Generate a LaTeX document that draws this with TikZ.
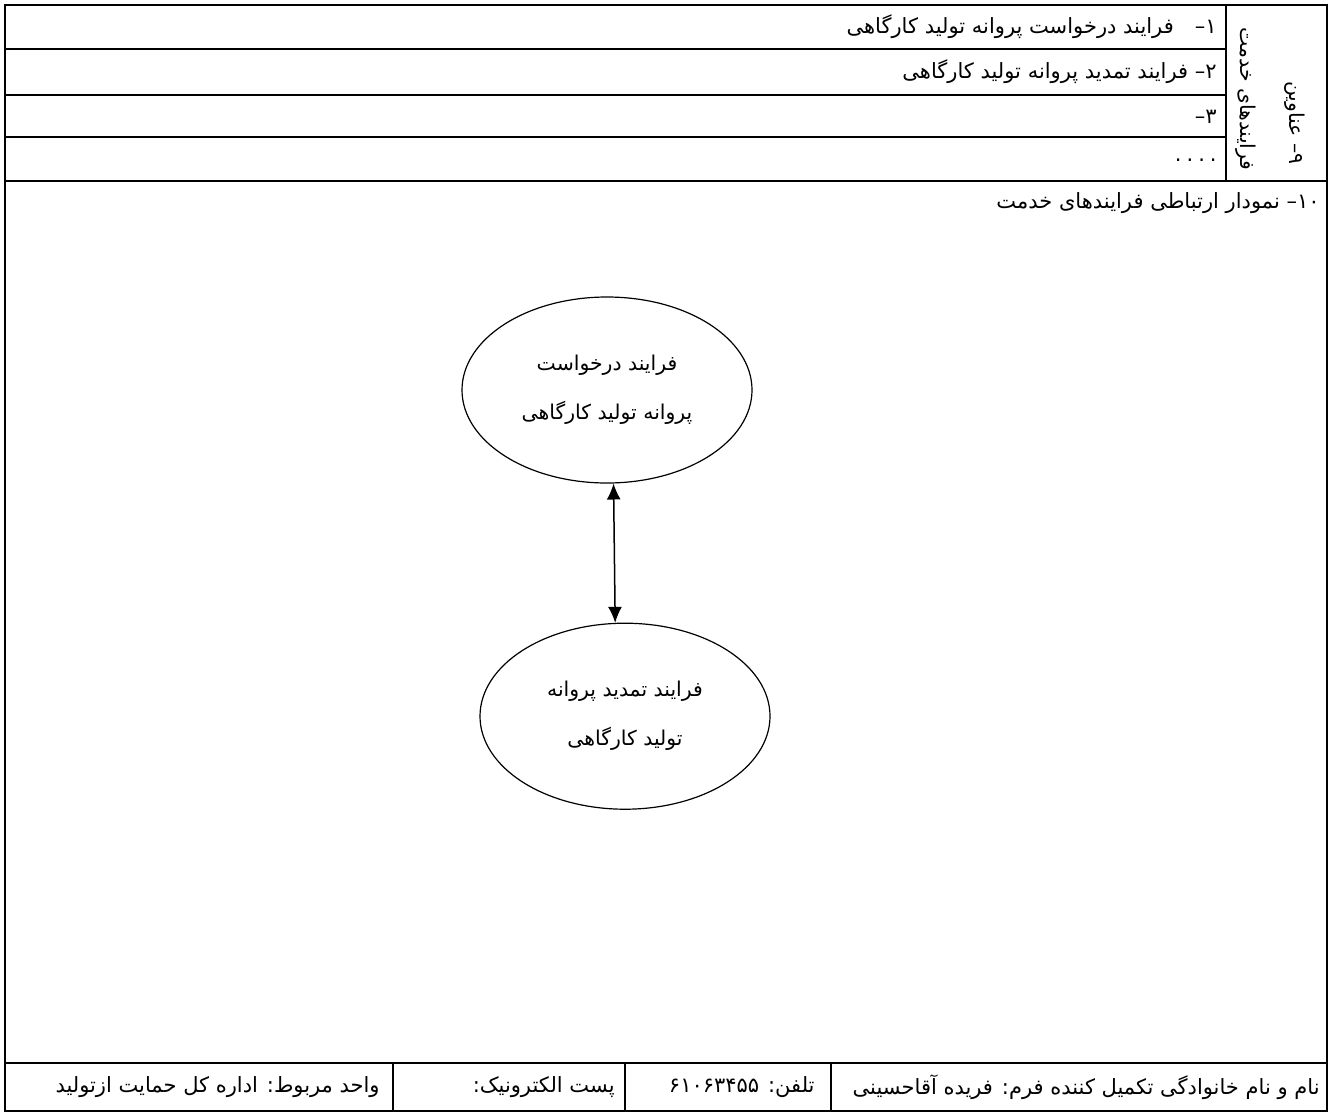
\documentclass[tikz,border=0pt]{standalone}
\usepackage{fontspec}
\newfontfamily\arabicfont[Script=Arabic]{DejaVu Sans}
\TeXXeTstate=1
\usetikzlibrary{shapes.geometric, positioning, arrows.meta}
\newcommand{\fa}[1]{\beginR #1\endR}

\begin{document}
\begin{tikzpicture}[x=0.5pt, y=-0.5pt,
    grid/.style={line width=1pt},
    txt/.style={anchor=east, inner sep=0pt, font=\arabicfont\fontsize{10.5}{12}\selectfont},
    side/.style={rotate=-90, inner sep=0pt, font=\arabicfont\fontsize{10.2}{12}\selectfont},
    proc/.style={ellipse, draw, line width=0.6pt, minimum width=145pt, minimum height=93pt, align=center, font=\arabicfont\fontsize{10.2}{24.5}\selectfont},]
    \useasboundingbox (0,0) rectangle (1331,1114);
    % table frame
    \draw[grid] (5,5) rectangle (1327,1111);
    \foreach \y in {49,95,137} \draw[grid] (5,\y) -- (1226,\y);
    \draw[grid] (5,181) -- (1327,181);
    \draw[grid] (1226,5) -- (1226,181);
    \draw[grid] (5,1063) -- (1327,1063);
    \foreach \x in {393,625,831} \draw[grid] (\x,1063) -- (\x,1111);
    % process list
    \node[side] (ttl) at (1295,123) {\fa{۹– عناوین}};
    \node[side] (svc) at (1246,99) {\fa{فرایندهای خدمت}};
    \node[txt] (p1) at (1217,27) {\fa{۱–\hspace{1em}فرایند درخواست پروانه تولید کارگاهی}};
    \node[txt] (p2) at (1217,72) {\fa{۲– فرایند تمدید پروانه تولید کارگاهی}};
    \node[txt] (p3) at (1217,117) {\fa{۳–}};
    \node[txt] (p4) at (1217,160) {.\kern2.5pt.\kern2.5pt.\kern2.5pt.};
    \node[txt] (head) at (1320,203) {\fa{۱۰– نمودار ارتباطی فرایندهای خدمت}};
    % diagram
    \node[proc] (req) at (607,390) {\fa{فرایند درخواست}\\\fa{پروانه تولید کارگاهی}};
    \node[proc, below=69.5pt of req, xshift=9pt] (ren) {\fa{فرایند تمدید پروانه}\\\fa{تولید کارگاهی}};
    \draw[{Latex[length=8pt,width=7pt]}-{Latex[length=8pt,width=7pt]}, line width=0.75pt] (req.-86) -- (ren.96);
    % footer
    \node[txt] (name) at (1320,1087) {\fa{نام و نام خانوادگی تکمیل کننده فرم: فریده آقاحسینی}};
    \node[txt] (tel) at (815,1087) {\fa{تلفن: \beginL ۶۱۰۶۳۴۵۵\endL}};
    \node[txt] (mail) at (615,1087) {\fa{پست الکترونیک:}};
    \node[txt] (unit) at (380,1087) {\fa{واحد مربوط: اداره کل حمایت ازتولید}};
\end{tikzpicture}
\end{document}
